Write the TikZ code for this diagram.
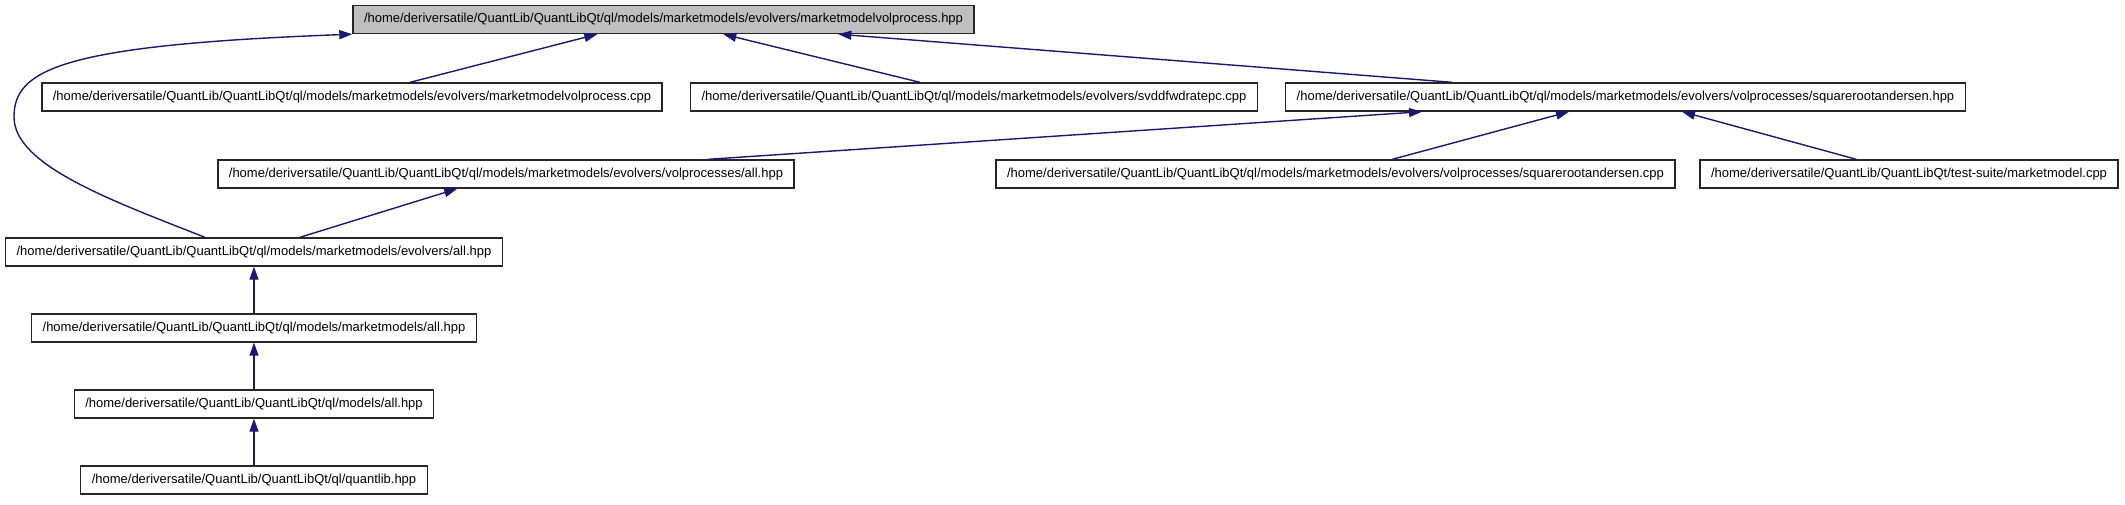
\documentclass[tikz,border=0pt]{standalone}
\usepackage{fontspec}
\setmainfont{Liberation Sans}
\usepackage{xcolor}
\usepackage{tikz}
\usetikzlibrary{calc,arrows.meta}
\definecolor{edgeblue}{RGB}{25, 25, 112}
\definecolor{focusgray}{RGB}{191, 191, 191}

\begin{document}
\begin{tikzpicture}[x=1pt, y=-1pt, >={Triangle[length=13pt, width=9pt]},
  file/.style={draw=black!85, line width=1.4pt, fill=white, inner xsep=11pt,
    minimum height=28pt, font=\fontsize{13}{15}\selectfont},
  edge/.style={draw=edgeblue, line width=1.4pt, ->}]
  \useasboundingbox (0, 0) rectangle (2125, 504);

  % File boxes
  \node[file, fill=focusgray] (top) at (663.5, 19.5) {/home/deriversatile/QuantLib/QuantLibQt/ql/models/marketmodels/evolvers/marketmodelvolprocess.hpp};
  \node[file] (mmvpcpp) at (352, 97) {/home/deriversatile/QuantLib/QuantLibQt/ql/models/marketmodels/evolvers/marketmodelvolprocess.cpp};
  \node[file] (svdd) at (974, 97) {/home/deriversatile/QuantLib/QuantLibQt/ql/models/marketmodels/evolvers/svddfwdratepc.cpp};
  \node[file] (sqahpp) at (1625.5, 97) {/home/deriversatile/QuantLib/QuantLibQt/ql/models/marketmodels/evolvers/volprocesses/squarerootandersen.hpp};
  \node[file] (vpall) at (506, 174) {/home/deriversatile/QuantLib/QuantLibQt/ql/models/marketmodels/evolvers/volprocesses/all.hpp};
  \node[file] (sqacpp) at (1335.5, 174) {/home/deriversatile/QuantLib/QuantLibQt/ql/models/marketmodels/evolvers/volprocesses/squarerootandersen.cpp};
  \node[file] (mmtest) at (1909, 174) {/home/deriversatile/QuantLib/QuantLibQt/test-suite/marketmodel.cpp};
  \node[file] (evall) at (254, 252) {/home/deriversatile/QuantLib/QuantLibQt/ql/models/marketmodels/evolvers/all.hpp};
  \node[file] (mmall) at (254, 328) {/home/deriversatile/QuantLib/QuantLibQt/ql/models/marketmodels/all.hpp};
  \node[file] (modall) at (254, 404) {/home/deriversatile/QuantLib/QuantLibQt/ql/models/all.hpp};
  \node[file] (qlib) at (254, 480) {/home/deriversatile/QuantLib/QuantLibQt/ql/quantlib.hpp};

  % Includes of marketmodelvolprocess.hpp
  \draw[edge] ([xshift=369pt]mmvpcpp.north west) -- ([xshift=245pt]top.south west);
  \draw[edge] ([xshift=230pt]svdd.north west) -- ([xshift=371pt]top.south west);
  \draw[edge] ([xshift=167pt]sqahpp.north west) -- ([xshift=486pt]top.south west);
  \draw[edge] ([xshift=200pt]evall.north west) .. controls (110, 200) and (14, 165) .. (14, 117)
    .. controls (14, 70) and (60, 45) .. (top.south west);

  % Includes of squarerootandersen.hpp
  \draw[edge] ([xshift=491pt]vpall.north west) -- ([xshift=137pt]sqahpp.south west);
  \draw[edge] ([xshift=397pt]sqacpp.north west) -- ([xshift=284pt]sqahpp.south west);
  \draw[edge] ([xshift=157pt]mmtest.north west) -- ([xshift=397pt]sqahpp.south west);

  % Chain down to quantlib.hpp
  \draw[edge] ([xshift=295pt]evall.north west) -- ([xshift=240pt]vpall.south west);
  \draw[edge] (mmall.north) -- (evall.south);
  \draw[edge] (modall.north) -- (mmall.south);
  \draw[edge] (qlib.north) -- (modall.south);
\end{tikzpicture}
\end{document}
